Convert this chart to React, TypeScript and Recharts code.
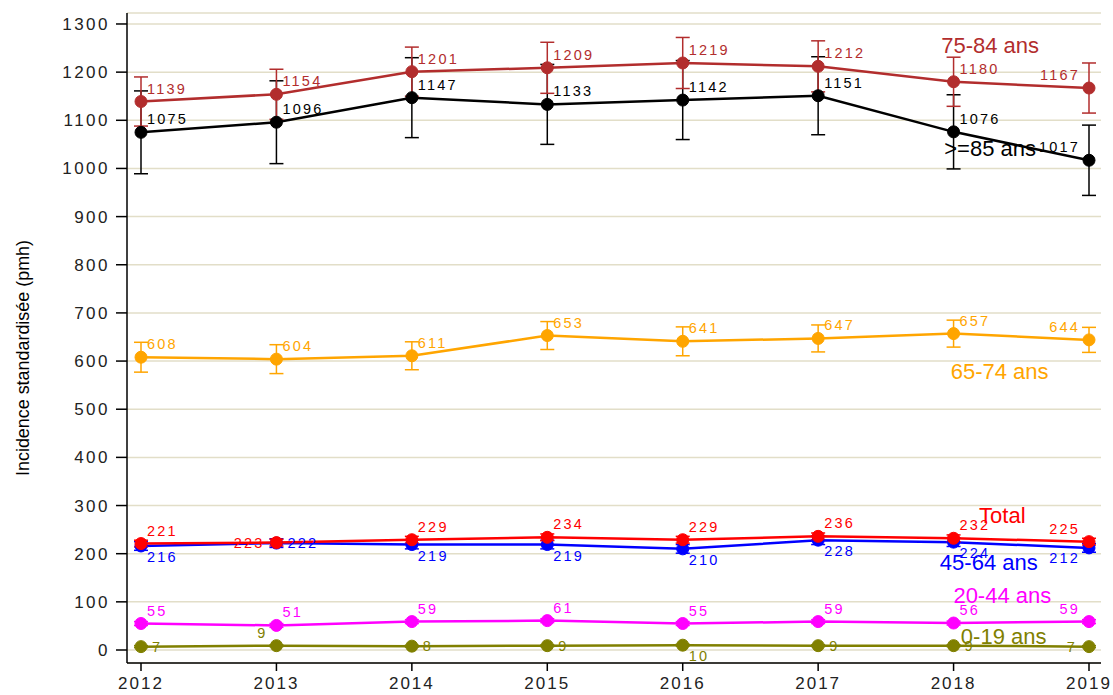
import React from 'react';
import { LineChart, Line, XAxis, YAxis, CartesianGrid, ErrorBar, ReferenceDot } from 'recharts';

const years = [2012, 2013, 2014, 2015, 2016, 2017, 2018, 2019];
const yTicks = [0, 100, 200, 300, 400, 500, 600, 700, 800, 900, 1000, 1100, 1200, 1300];

const ans75_84 = [1139, 1154, 1201, 1209, 1219, 1212, 1180, 1167];
const err75_84 = [51, 52, 51, 53, 53, 53, 51, 52];
const ans85 = [1075, 1096, 1147, 1133, 1142, 1151, 1076, 1017];
const err85 = [86, 86, 83, 83, 82, 81, 77, 73];
const ans65_74 = [608, 604, 611, 653, 641, 647, 657, 644];
const err65_74 = [31, 30, 29, 29, 30, 28, 28, 26];
const total = [221, 223, 229, 234, 229, 236, 232, 225];
const errTotal = [7, 7, 7, 7, 7, 7, 7, 7];
const ans45_64 = [216, 222, 219, 219, 210, 228, 224, 212];
const err45_64 = [9, 9, 9, 9, 9, 9, 9, 9];
const ans20_44 = [55, 51, 59, 61, 55, 59, 56, 59];
const err20_44 = [4, 4, 4, 4, 4, 4, 4, 4];
const ans0_19 = [7, 9, 8, 9, 10, 9, 9, 7];
const err0_19 = [2, 2, 2, 2, 2, 2, 2, 2];

const seriesNames = ['0-19 ans', '20-44 ans', '45-64 ans', 'Total', '65-74 ans', '>=85 ans', '75-84 ans'];
const nameX = [2018.37, 2018.36, 2018.26, 2018.36, 2018.34, 2018.27, 2018.27];
const nameY = [29, 114, 181, 280, 579, 1042, 1256];

// label placement (clock-like) for the value labels
const pos_ur7ul = ['ur', 'ur', 'ur', 'ur', 'ur', 'ur', 'ur', 'ul'];
const posTotal = ['ur', 'l', 'ur', 'ur', 'ur', 'ur', 'ur', 'ul'];
const pos45 = ['lr', 'r', 'lr', 'lr', 'lr', 'lr', 'lr', 'll'];
const pos0 = ['r', 'ul', 'r', 'r', 'lr', 'r', 'r', 'l'];

const series = [
  { key: 's0_19', values: ans0_19, errors: err0_19, color: '#808000', pos: pos0 },
  { key: 's20_44', values: ans20_44, errors: err20_44, color: '#ff00ff', pos: pos_ur7ul },
  { key: 's45_64', values: ans45_64, errors: err45_64, color: '#0000ff', pos: pos45 },
  { key: 'sTotal', values: total, errors: errTotal, color: '#ff0000', pos: posTotal },
  { key: 's65_74', values: ans65_74, errors: err65_74, color: '#ffa500', pos: pos_ur7ul },
  { key: 's85', values: ans85, errors: err85, color: '#000000', pos: pos_ur7ul },
  { key: 's75_84', values: ans75_84, errors: err75_84, color: '#b22d2d', pos: pos_ur7ul },
];

const FONT = '"Liberation Sans", Arial, Helvetica, sans-serif';

const offsets: Record<string, { dx: number; dy: number; anchor: 'start' | 'end' }> = {
  ur: { dx: 6, dy: -13, anchor: 'start' },
  ul: { dx: -9, dy: -13, anchor: 'end' },
  r: { dx: 11, dy: 0, anchor: 'start' },
  l: { dx: -12, dy: 0, anchor: 'end' },
  lr: { dx: 6, dy: 11, anchor: 'start' },
  ll: { dx: -9, dy: 10, anchor: 'end' },
};

function makeDot(s: typeof series[number]) {
  return (props: any) => {
    const { cx, cy, index } = props;
    if (cx == null || cy == null) return <g key={`d-${s.key}-${index}`} />;
    const o = offsets[s.pos[index]];
    return (
      <g key={`d-${s.key}-${index}`}>
        <circle cx={cx} cy={cy} r={6} fill={s.color} stroke={s.color} />
        <text
          x={cx + o.dx}
          y={cy + o.dy}
          textAnchor={o.anchor}
          dominantBaseline="central"
          fontSize={14.5}
          letterSpacing={2.2}
          fontFamily={FONT}
          fill={s.color}
        >
          {s.values[index]}
        </text>
      </g>
    );
  };
}

export default function App() {
  const data = years.map((year, i) => {
    const row: any = { year };
    series.forEach((s) => {
      row[s.key] = s.values[i];
      row[s.key + 'Err'] = s.errors[i];
    });
    return row;
  });

  return (
    <div style={{ position: 'absolute', left: 0, top: 0, width: 1113, height: 695, background: '#fff' }}>
      <LineChart width={1113} height={695} data={data} margin={{ top: 13, right: 12, left: 67, bottom: 2 }}>
        <CartesianGrid horizontal vertical={false} stroke="#e2dec8" strokeWidth={1.5} />
        <XAxis
          dataKey="year"
          type="number"
          domain={[2011.8966, 2019.0886]}
          ticks={years}
          allowDataOverflow
          interval={0}
          height={30}
          tickSize={8}
          tickMargin={6}
          axisLine={{ stroke: '#000', strokeWidth: 1.5 }}
          tickLine={{ stroke: '#000', strokeWidth: 1.5 }}
          tick={{ fontSize: 17, fill: '#222', fontFamily: FONT, letterSpacing: 2 }}
        />
        <YAxis
          type="number"
          domain={[-27, 1322.8]}
          ticks={yTicks}
          allowDataOverflow
          interval={0}
          width={60}
          tickSize={11}
          tickMargin={6}
          axisLine={{ stroke: '#000', strokeWidth: 1.5 }}
          tickLine={{ stroke: '#000', strokeWidth: 1.5 }}
          tick={{ fontSize: 17, fill: '#222', fontFamily: FONT, letterSpacing: 2.5 }}
        />
        {series.map((s) => (
          <Line
            key={s.key}
            dataKey={s.key}
            stroke={s.color}
            strokeWidth={2.5}
            isAnimationActive={false}
            dot={makeDot(s)}
            activeDot={false}
            type="linear"
          >
            <ErrorBar dataKey={s.key + 'Err'} direction="y" width={7} stroke={s.color} strokeWidth={1.5} isAnimationActive={false} />
          </Line>
        ))}
        {seriesNames.map((name, i) => (
          <ReferenceDot
            key={name}
            x={nameX[i]}
            y={nameY[i]}
            r={0}
            ifOverflow="visible"
            shape={(p: any) => (
              <text
                x={p.cx}
                y={p.cy}
                textAnchor="middle"
                dominantBaseline="central"
                fontSize={22}
                fontFamily={FONT}
                fill={series[i].color}
              >
                {name}
              </text>
            )}
          />
        ))}
      </LineChart>
      <svg width={60} height={695} style={{ position: 'absolute', left: 0, top: 0 }}>
        <text
          x={22}
          y={358}
          transform="rotate(-90 22 358)"
          textAnchor="middle"
          dominantBaseline="central"
          fontSize={19}
          fontFamily='"Liberation Sans Narrow", "Arial Narrow", "Liberation Sans", Arial, sans-serif'
          textLength={236}
          lengthAdjust="spacingAndGlyphs"
          fill="#000"
        >
          Incidence standardisée (pmh)
        </text>
      </svg>
    </div>
  );
}
